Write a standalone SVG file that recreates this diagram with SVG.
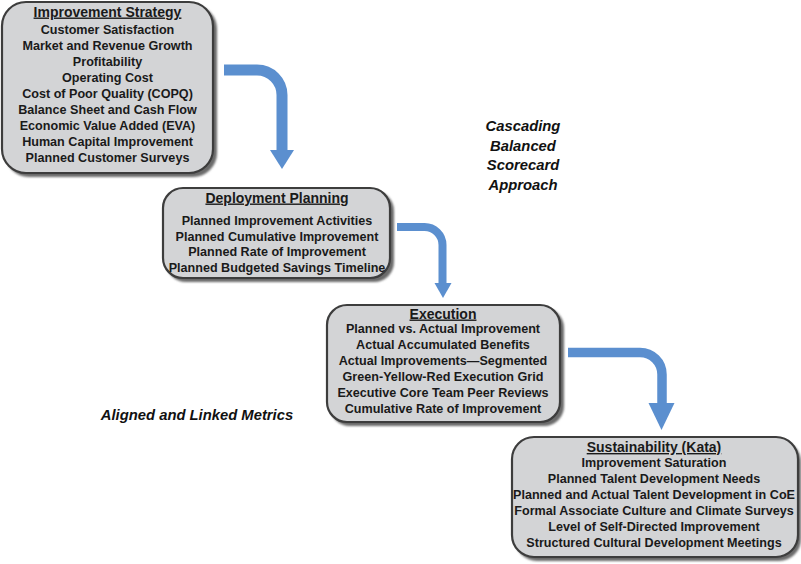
<svg xmlns="http://www.w3.org/2000/svg" width="801" height="564" viewBox="0 0 801 564">
<defs>
<filter id="sh" x="-10%" y="-10%" width="130%" height="130%"><feGaussianBlur stdDeviation="1.2"/></filter>
<style>
.box{fill:#d3d4d6;stroke:#3d3d3d;stroke-width:2.2}
.shadow{fill:#6a6a6a;filter:url(#sh)}
.t{font-family:"Liberation Sans",Arial,sans-serif;font-weight:bold;font-size:12.6px;fill:#1a1a1a;text-anchor:middle}
.h{font-size:14px;text-decoration:underline}
.it{font-family:"Liberation Sans",Arial,sans-serif;font-weight:bold;font-style:italic;font-size:14.8px;fill:#111}
.arr{fill:none;stroke:#5b8fcf}
.head{fill:#5b8fcf}
</style>
</defs>
<rect width="801" height="564" fill="#ffffff"/>
<g id="connectors">
<path class="arr" stroke-width="11" d="M224,70 H257 A25,25 0 0 1 282,95 V151"/>
<polygon class="head" points="270,150 294,150 282,169"/>
<path class="arr" stroke-width="8" d="M397,227 H424 A18,18 0 0 1 442.5,245 V284"/>
<polygon class="head" points="434.5,283 451.5,283 443,298"/>
<path class="arr" stroke-width="9.5" d="M568,352.5 H640 A22,22 0 0 1 662,374.5 V404"/>
<polygon class="head" points="648.5,403 674.5,403 661.5,430"/>
</g>
<g id="improvement-strategy">
<rect class="shadow" x="5" y="5" width="212" height="172" rx="24"/>
<rect class="box" x="2" y="2" width="211" height="171" rx="24"/>
<text class="t h" x="107.5" y="16.5">Improvement Strategy</text>
<text class="t" x="107.5" y="34">Customer Satisfaction</text>
<text class="t" x="107.5" y="50">Market and Revenue Growth</text>
<text class="t" x="107.5" y="66">Profitability</text>
<text class="t" x="107.5" y="82">Operating Cost</text>
<text class="t" x="107.5" y="98">Cost of Poor Quality (COPQ)</text>
<text class="t" x="107.5" y="114">Balance Sheet and Cash Flow</text>
<text class="t" x="107.5" y="130">Economic Value Added (EVA)</text>
<text class="t" x="107.5" y="146">Human Capital Improvement</text>
<text class="t" x="107.5" y="162">Planned Customer Surveys</text>
</g>
<g id="deployment-planning">
<rect class="shadow" x="166" y="191" width="228" height="91" rx="20"/>
<rect class="box" x="163" y="188" width="227" height="90" rx="20"/>
<text class="t h" x="277" y="202.5">Deployment Planning</text>
<text class="t" x="277" y="225">Planned Improvement Activities</text>
<text class="t" x="277" y="240.5">Planned Cumulative Improvement</text>
<text class="t" x="277" y="256">Planned Rate of Improvement</text>
<text class="t" x="277" y="271.5">Planned Budgeted Savings Timeline</text>
</g>
<g id="execution">
<rect class="shadow" x="330" y="308" width="234" height="118" rx="20"/>
<rect class="box" x="327" y="305" width="233" height="117" rx="20"/>
<text class="t h" x="443" y="318.5">Execution</text>
<text class="t" x="443" y="333">Planned vs. Actual Improvement</text>
<text class="t" x="443" y="349">Actual Accumulated Benefits</text>
<text class="t" x="443" y="365">Actual Improvements—Segmented</text>
<text class="t" x="443" y="381">Green-Yellow-Red Execution Grid</text>
<text class="t" x="443" y="397">Executive Core Team Peer Reviews</text>
<text class="t" x="443" y="413">Cumulative Rate of Improvement</text>
</g>
<g id="sustainability">
<rect class="shadow" x="515" y="440" width="286" height="121" rx="22"/>
<rect class="box" x="512" y="437" width="286" height="120" rx="22"/>
<text class="t h" x="654" y="452">Sustainability (Kata)</text>
<text class="t" x="654" y="467">Improvement Saturation</text>
<text class="t" x="654" y="483">Planned Talent Development Needs</text>
<text class="t" x="654" y="499">Planned and Actual Talent Development in CoE</text>
<text class="t" x="654" y="515">Formal Associate Culture and Climate Surveys</text>
<text class="t" x="654" y="531">Level of Self-Directed Improvement</text>
<text class="t" x="654" y="547">Structured Cultural Development Meetings</text>
</g>
<g id="labels">
<text class="it" x="523" y="131" text-anchor="middle">Cascading</text>
<text class="it" x="523" y="150.5" text-anchor="middle">Balanced</text>
<text class="it" x="523" y="170" text-anchor="middle">Scorecard</text>
<text class="it" x="523" y="189.5" text-anchor="middle">Approach</text>
<text class="it" x="197" y="420" text-anchor="middle">Aligned and Linked Metrics</text>
</g>
</svg>
